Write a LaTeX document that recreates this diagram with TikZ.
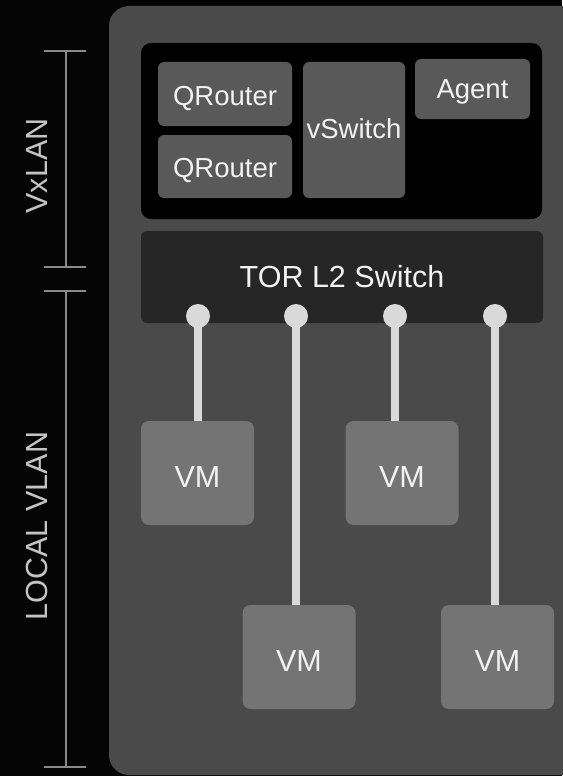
\documentclass[tikz,border=0pt]{standalone}
\usepackage{fontspec}
\setmainfont{Liberation Sans}
\definecolor{bgc}{HTML}{050505}
\definecolor{panelc}{HTML}{4A4A4A}
\definecolor{innerc}{HTML}{595959}
\definecolor{torc}{HTML}{262626}
\definecolor{vmc}{HTML}{747474}
\definecolor{wirec}{HTML}{D9D9D9}
\definecolor{bracketc}{HTML}{8A8A8A}
\definecolor{labelc}{HTML}{C4C4C4}
\definecolor{textc}{HTML}{F2F2F2}
\newcommand{\lowr}[2]{\raisebox{-#1pt}[\height][\depth]{#2}}
\tikzset{
  x=1pt, y=-1pt,
  innerbox/.style={fill=innerc, rounded corners=6pt, inner sep=0pt, text=textc,
    font=\fontsize{27.5}{30}\selectfont},
  vmbox/.style={fill=vmc, rounded corners=8pt, inner sep=0pt, text=textc,
    minimum width=113pt, minimum height=104pt, font=\fontsize{30.5}{33}\selectfont},
  wire/.style={draw=wirec, line width=7.5pt},
  dotc/.style={circle, fill=wirec, minimum size=24pt, inner sep=0pt},
  bracket/.style={draw=bracketc, line width=1.5pt},
  sidelabel/.style={text=labelc, rotate=90, font=\fontsize{30.5}{33}\selectfont}
}
\begin{document}
\begin{tikzpicture}
\useasboundingbox (0,0) rectangle (562,776);
\fill[bgc] (0,0) rectangle (562,776);
% main panel
\fill[panelc, rounded corners=20pt] (109,6) rectangle (600,775);
% black host box
\node[fill=black, rounded corners=10pt, minimum width=401pt, minimum height=176pt, inner sep=0pt] (host) at (341.5,131) {};
\node[innerbox, minimum width=134pt, minimum height=64pt] (qr1) at (225,94) {\lowr{4}{QRouter}};
\node[innerbox, minimum width=134pt, minimum height=63pt] (qr2) at (225,166.5) {\lowr{4}{QRouter}};
\node[innerbox, minimum width=102pt, minimum height=136pt] (vsw) at (354,130) {\lowr{-1}{vSwitch}};
\node[innerbox, minimum width=115pt, minimum height=60pt] (agent) at (472.5,89) {\lowr{3}{Agent}};
% TOR switch
\node[fill=torc, rounded corners=6pt, minimum width=402pt, minimum height=92pt, inner sep=0pt,
  text=textc, font=\fontsize{30.5}{33}\selectfont] (tor) at (342,277) {TOR L2 Switch};
% VMs
\node[vmbox] (vm1) at (197.5,473) {\lowr{4}{VM}};
\node[vmbox] (vm2) at (299,657) {\lowr{4}{VM}};
\node[vmbox] (vm3) at (402,473) {\lowr{4}{VM}};
\node[vmbox] (vm4) at (497.5,657) {\lowr{4}{VM}};
% ports
\coordinate (p1) at (198,316);
\coordinate (p2) at (296,316);
\coordinate (p3) at (395,316);
\coordinate (p4) at (495,316);
\draw[wire] (p1) -- (p1 |- vm1.north);
\draw[wire] (p2) -- (p2 |- vm2.north);
\draw[wire] (p3) -- (p3 |- vm3.north);
\draw[wire] (p4) -- (p4 |- vm4.north);
\node[dotc] (d1) at (p1) {};
\node[dotc] (d2) at (p2) {};
\node[dotc] (d3) at (p3) {};
\node[dotc] (d4) at (p4) {};
% side brackets
\draw[bracket] (44,51) -- (86,51) (66,51) -- (66,267) (44,267) -- (86,267);
\draw[bracket] (44,291) -- (86,291) (66,291) -- (66,767) (44,767) -- (86,767);
\node[sidelabel] (vxlan) at (37,166) {VxLAN};
\node[sidelabel] (lvlan) at (37,526) {LOCAL VLAN};
\end{tikzpicture}
\end{document}
